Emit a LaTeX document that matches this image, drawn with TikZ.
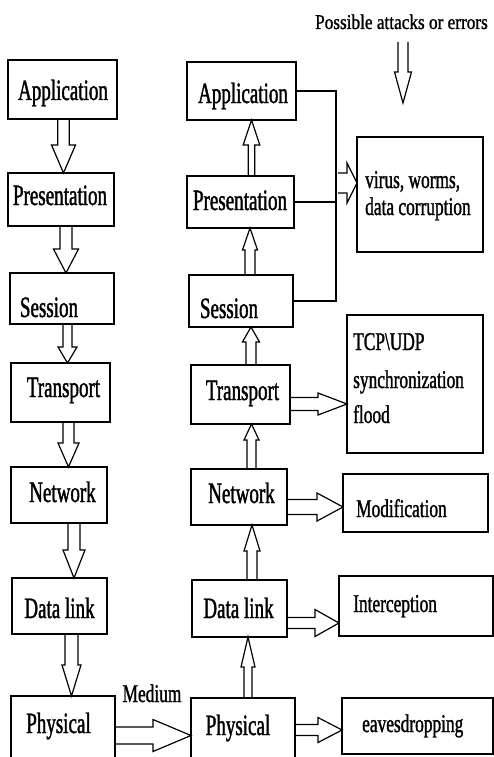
\documentclass[tikz,border=0pt]{standalone}
\usepackage{fontspec}
\setmainfont{Liberation Serif}
\newfontfamily\lfam[FakeStretch=0.645,FakeBold=1.3]{Liberation Serif}
\newfontfamily\afam[FakeStretch=0.68,FakeBold=1.2]{Liberation Serif}
\newfontfamily\tfam[FakeStretch=0.82,FakeBold=1.1]{Liberation Serif}
\usetikzlibrary{calc}

\tikzset{
  box/.style={draw, line width=1.3pt, inner sep=0pt, outer sep=0pt},
  lbl/.style={font={\lfam\fontsize{29.5}{32}\selectfont}, anchor=base, inner sep=0pt},
  att/.style={font={\afam\fontsize{25.5}{28}\selectfont}, anchor=base west, inner sep=0pt},
  toplbl/.style={font={\tfam\fontsize{21}{24}\selectfont}, anchor=base, inner sep=0pt},
  blk/.style={draw, line width=1.2pt, line join=miter},
  conn/.style={line width=1.2pt},
  bar/.style={line width=2.8pt}
}

% box from corners
\newcommand\bx[5]{\node[box, minimum width={#4-#2}, minimum height={#5-#3}] (#1) at ({(#2+#4)/2},{(#3+#5)/2}) {};}
% hollow block arrows: start, tip, shaft half width, head half width, head length
\newcommand\darr[5]{\draw[blk] let \p1=(#1), \p2=(#2) in (\x2-#3,\y1) -- (\x2-#3,\y2+#5) -- (\x2-#4,\y2+#5) -- (\p2) -- (\x2+#4,\y2+#5) -- (\x2+#3,\y2+#5) -- (\x2+#3,\y1);}
\newcommand\uarr[5]{\draw[blk] let \p1=(#1), \p2=(#2) in (\x2-#3,\y1) -- (\x2-#3,\y2-#5) -- (\x2-#4,\y2-#5) -- (\p2) -- (\x2+#4,\y2-#5) -- (\x2+#3,\y2-#5) -- (\x2+#3,\y1);}
\newcommand\rarr[5]{\draw[blk] let \p1=(#1), \p2=(#2) in (\x1,\y2+#3) -- (\x2-#5,\y2+#3) -- (\x2-#5,\y2+#4) -- (\p2) -- (\x2-#5,\y2-#4) -- (\x2-#5,\y2-#3) -- (\x1,\y2-#3);}

\begin{document}
\begin{tikzpicture}[x=1pt, y=-1pt]
\useasboundingbox (0,0) rectangle (494,757);
\clip (0,0) rectangle (494,757);

% left stack
\bx{lapp}{8}{60}{117}{119}
\bx{lpres}{8}{173}{114}{226}
\bx{lses}{10}{273}{114}{324}
\bx{ltra}{11}{363}{110}{422}
\bx{lnet}{11}{467}{107}{523}
\bx{ldl}{12}{578}{107}{634}
\bx{lphy}{11}{696}{115}{775}
% right stack
\bx{rapp}{187}{62}{296}{120}
\bx{rpres}{187}{176}{294}{228}
\bx{rses}{189}{275}{293}{327}
\bx{rtra}{191}{365}{290}{424}
\bx{rnet}{191}{469}{287}{525}
\bx{rdl}{192}{580}{287}{637}
\bx{rphy}{191}{698}{295}{775}
% attack boxes
\bx{virus}{357}{137}{483}{252}
\bx{tcp}{347}{315}{483}{453}
\bx{mod}{343}{474}{488}{532}
\bx{int}{339}{576}{493}{636}
\bx{eav}{342}{698}{493}{754}

% labels
\node[lbl] (tlapp) at (63,100) {Application};
\node[lbl] (tlpres) at (60,205) {Presentation};
\node[lbl] (tlses) at (49,317) {Session};
\node[lbl] (tltra) at (63.5,397) {Transport};
\node[lbl] (tlnet) at (62.5,502) {Network};
\node[lbl] (tldl) at (59.5,618) {Data link};
\node[lbl] (tlphy) at (58.5,733) {Physical};

\node[lbl] (trapp) at (243,103) {Application};
\node[lbl] (trpres) at (240,210) {Presentation};
\node[lbl] (trses) at (229,318) {Session};
\node[lbl] (trtra) at (242.5,400) {Transport};
\node[lbl] (trnet) at (241.5,503) {Network};
\node[lbl] (trdl) at (238.5,618) {Data link};
\node[lbl] (trphy) at (238,735) {Physical};

\node[att] (tcpa) at (353,350) {TCP\textbackslash UDP};
\node[att] (tcpb) at (353,388) {synchronization};
\node[att] (tcpc) at (353,423) {flood};
\node[att] (vira) at (365,188) {virus, worms,};
\node[att] (virb) at (365,215) {data corruption};
\node[att] (modt) at (356,517) {Modification};
\node[att] (intt) at (353,612) {Interception};
\node[att] (eavt) at (362,732) {eavesdropping};
\node[att, anchor=base] (medt) at (152,702) {Medium};
\node[toplbl] (poss) at (401.5,29) {Possible attacks or errors};

% left column arrows (down)
\darr{lapp.south}{$(lpres.north)+(2.5,0)$}{5.8pt}{12pt}{28pt}
\darr{lpres.south}{$(lses.north)+(4,0)$}{6pt}{12.5pt}{24pt}
\darr{lses.south}{$(ltra.north)+(7,0)$}{4.5pt}{9.5pt}{16pt}
\darr{ltra.south}{$(lnet.north)+(9.5,0)$}{5.5pt}{10.5pt}{24pt}
\darr{lnet.south}{$(ldl.north)+(14.5,0)$}{6pt}{11pt}{28pt}
\darr{ldl.south}{$(lphy.north)+(8.5,0)$}{6.5pt}{9.5pt}{31pt}

% right column arrows (up)
\uarr{rpres.north}{$(rapp.south)+(10,0)$}{3.2pt}{8.3pt}{25pt}
\uarr{rses.north}{$(rpres.south)+(9.5,0)$}{5pt}{7.5pt}{22pt}
\uarr{rtra.north}{$(rses.south)+(10,0)$}{5pt}{8.5pt}{15pt}
\uarr{rnet.north}{$(rtra.south)+(11,0)$}{4.5pt}{7.5pt}{16pt}
\uarr{rdl.north}{$(rnet.south)+(13,0)$}{5pt}{8pt}{26pt}
\uarr{rphy.north}{$(rdl.south)+(8.5,0)$}{4pt}{7pt}{30pt}

% black bars at arrow roots
\draw[bar] ($(lapp.south)+(-4.5,0)$) -- ++(11,0);
\draw[bar] ($(lpres.south)+(-1,0)$) -- ++(12,0);
\draw[bar] ($(lses.south)+(0.7,0)$) -- ++(9,0);
\draw[bar] ($(lnet.south)+(9,0)$) -- ++(12,0);
\draw[bar] ($(rapp.south)+(-4.8,0)$) -- ++(13,0);
\draw[bar] ($(rpres.south)+(-2.5,0)$) -- ++(12,0);
\draw[bar] ($(rses.south)+(0.7,0)$) -- ++(9,0);
\draw[bar] ($(rnet.north)+(7.7,0)$) -- ++(9.3,0);

% horizontal arrows
\rarr{rtra.east}{$(tcp.west)+(0,20)$}{6.5pt}{11pt}{29pt}
\rarr{rnet.east}{$(mod.west)+(0,4)$}{7.5pt}{14pt}{26pt}
\rarr{rdl.east}{$(int.west)+(0,17)$}{5.5pt}{13.5pt}{24pt}
\rarr{rphy.east}{$(eav.west)+(0,4)$}{5.5pt}{12.5pt}{24pt}
\rarr{lphy.east}{$(rphy.west)+(0,-1)$}{8.5pt}{16pt}{38pt}

% bus to virus box
\coordinate (bus) at (336,0);
\draw[conn] (rapp.east) -- (rapp.east -| bus) -- (rses.east -| bus) -- (rses.east);
\draw[conn] (rpres.east) -- (rpres.east -| bus);
\coordinate (vstart) at (338,183);
\rarr{vstart}{$(virus.west)+(0,-11.5)$}{10pt}{20pt}{10pt}

% top arrow
\coordinate (tstart) at (403,42);
\coordinate (ttip) at (403,103);
\darr{tstart}{ttip}{5pt}{8.5pt}{31pt}
\end{tikzpicture}
\end{document}
